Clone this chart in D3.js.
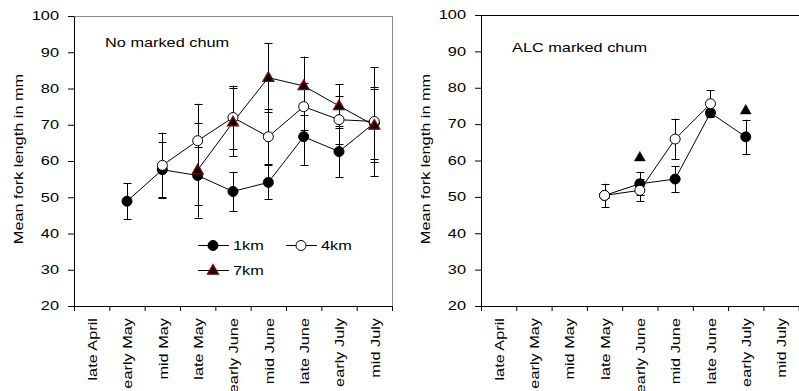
<!DOCTYPE html>
<html>
<head>
<meta charset="utf-8">
<script src="https://cdn.jsdelivr.net/npm/d3@7"></script>
<style>
body { margin: 0; background: #fff; }
text { font-family: "Liberation Sans", Arial, sans-serif; font-size: 12px; fill: #000; }
</style>
</head>
<body>
<script>

var periods = ['late April', 'early May', 'mid May', 'late May', 'early June', 'mid June', 'late June', 'early July', 'mid July'];
var yTicks = [20, 30, 40, 50, 60, 70, 80, 90, 100];

// NO MARKED CHUM
var noKm1 = [null, 48.9, 57.6, 56.0, 51.6, 54.1, 66.7, 62.6, 70.5];
var noKm1Err = [null, 4.9, 7.6, 8.0, 5.4, 4.7, 7.9, 7.0, 10.0];
var noKm4 = [null, null, 58.8, 65.6, 72.0, 66.7, 75.0, 71.4, 70.9];
var noKm4Err = [null, null, 9.0, 10.2, 8.8, 7.6, 6.5, 6.6, 15.0];
var noKm7 = [null, null, null, 57.5, 70.7, 83.0, 80.7, 75.2, 69.8];
var noKm7Err = [null, null, null, 13.1, 9.4, 9.6, 8.1, 6.0, 10.0];

// ALC MARKED CHUM
var alcKm1 = [null, null, null, 50.4, 53.6, 54.9, 73.1, 66.5, null];
var alcKm1Err = [null, null, null, 0.8, 3.2, 3.6, 1.0, 4.7, null];
var alcKm4 = [null, null, null, 50.4, 51.8, 65.9, 75.6, null, null];
var alcKm4Err = [null, null, null, 3.2, 3.0, 5.6, 3.7, null, null];
var alcKm7 = [null, null, null, null, 60.9, null, null, 73.8, null];

var sx = 1.36; // text in the picture is wider than plain Arial

var svg = d3.select('body').append('svg')
	.attr('width', 799)
	.attr('height', 391);

svg.append('rect')
	.attr('width', 799)
	.attr('height', 391)
	.attr('fill', '#fff');

function panel(left, right, top, title, titleY, series, frameColor, showRight) {
	var g = svg.append('g');

	var y = d3.scaleLinear().domain([20, 100]).range([306, top]);
	var x = d3.scaleBand().domain(periods).range([left, right]);
	var edge = d3.scaleLinear().domain([0, periods.length]).range([left, right]);

	// frame top / right
	g.append('line')
		.attr('x1', left).attr('x2', right + 1)
		.attr('y1', top + 0.5).attr('y2', top + 0.5)
		.attr('stroke', frameColor);
	if (showRight) {
		g.append('line')
			.attr('x1', right + 0.5).attr('x2', right + 0.5)
			.attr('y1', top).attr('y2', 306)
			.attr('stroke', frameColor);
	}

	// Y AXIS
	var yAxis = g.append('g')
		.attr('transform', 'translate(' + left + ',0)')
		.call(d3.axisLeft(y).tickValues(yTicks).tickSize(6).tickSizeOuter(0).tickPadding(9));
	yAxis.selectAll('text')
		.attr('x', 0)
		.attr('transform', 'translate(-15,0) scale(' + sx + ',1)');

	// X AXIS: ticks on the period edges, labels in the middle
	g.append('g')
		.attr('transform', 'translate(0,306)')
		.call(d3.axisBottom(edge).tickValues(d3.range(periods.length + 1)).tickFormat('').tickSize(5).tickSizeOuter(0));

	var xAxis = g.append('g')
		.attr('transform', 'translate(0,306)')
		.call(d3.axisBottom(x).tickSize(0));
	xAxis.select('.domain').remove();
	xAxis.selectAll('text')
		.attr('x', 0)
		.attr('y', 0)
		.attr('dy', '0.35em')
		.style('text-anchor', 'end')
		.attr('transform', 'translate(1,12) rotate(-90) scale(' + sx + ',1)');

	g.selectAll('.domain, .tick line').attr('stroke', '#000');
	g.selectAll('.tick text').attr('font-size', 12).attr('font-family', '"Liberation Sans", Arial, sans-serif');

	// axis title
	g.append('text')
		.attr('text-anchor', 'middle')
		.attr('transform', 'translate(' + (left - 51) + ',159) rotate(-90) scale(' + sx + ',1)')
		.text('Mean fork length in mm');

	g.append('text')
		.attr('transform', 'translate(' + (left + 31) + ',' + titleY + ') scale(' + sx + ',1)')
		.text(title);

	// ERROR BARS
	series.forEach(function(s) {
		if (!s.err) return;
		periods.forEach(function(p, i) {
			var v = s.values[i], e = s.err[i];
			if (v == null || e == null) return;
			var cx = Math.round(x(p) + x.bandwidth() / 2) + 0.5;
			g.append('line')
				.attr('x1', cx).attr('x2', cx)
				.attr('y1', y(v - e)).attr('y2', y(v + e))
				.attr('stroke', '#000');
			[v - e, v + e].forEach(function(w) {
				g.append('line')
					.attr('x1', cx - 4).attr('x2', cx + 4)
					.attr('y1', Math.round(y(w)) + 0.5).attr('y2', Math.round(y(w)) + 0.5)
					.attr('stroke', '#000');
			});
		});
	});

	// LINES
	series.forEach(function(s) {
		if (!s.line) return;
		var line = d3.line()
			.defined(function(d) { return d.v != null; })
			.x(function(d) { return x(d.p) + x.bandwidth() / 2; })
			.y(function(d) { return y(d.v); });
		g.append('path')
			.datum(periods.map(function(p, i) { return {p: p, v: s.values[i]}; }))
			.attr('d', line)
			.attr('fill', 'none')
			.attr('stroke', '#000');
	});

	// MARKERS
	series.forEach(function(s) {
		periods.forEach(function(p, i) {
			var v = s.values[i];
			if (v == null) return;
			var cx = x(p) + x.bandwidth() / 2;
			marker(g, s.kind, cx, y(v), s.stroke);
		});
	});
}

function marker(g, kind, cx, cy, stroke) {
	if (kind == 'tri') {
		g.append('path')
			.attr('d', d3.symbol(d3.symbolTriangle, 52)())
			.attr('transform', 'translate(' + cx + ',' + (cy + 0.5) + ')')
			.attr('fill', '#000')
			.attr('stroke', stroke || '#000')
			.attr('stroke-width', stroke ? 1.3 : 0.5);
	} else {
		g.append('circle')
			.attr('cx', cx)
			.attr('cy', cy)
			.attr('r', 5)
			.attr('fill', kind == 'open' ? '#fff' : '#000')
			.attr('stroke', '#000');
	}
}

panel(74, 392, 16, 'No marked chum', 46.5, [
	{values: noKm1, err: noKm1Err, kind: 'fill', line: true},
	{values: noKm4, err: noKm4Err, kind: 'open', line: true},
	{values: noKm7, err: noKm7Err, kind: 'tri', line: true, stroke: '#8b0000'}
], '#8c8c8c', true);

panel(481, 798.7, 15, 'ALC marked chum', 52, [
	{values: alcKm1, err: alcKm1Err, kind: 'fill', line: true},
	{values: alcKm4, err: alcKm4Err, kind: 'open', line: true},
	{values: alcKm7, err: null, kind: 'tri', line: false}
], '#000', false);

// LEGEND
var legend = [
	{name: '1km', kind: 'fill', x: 198, y: 245},
	{name: '4km', kind: 'open', x: 286, y: 245},
	{name: '7km', kind: 'tri', x: 198, y: 270, stroke: '#8b0000'}
];
legend.forEach(function(d) {
	svg.append('line')
		.attr('x1', d.x).attr('x2', d.x + 31)
		.attr('y1', d.y + 0.5).attr('y2', d.y + 0.5)
		.attr('stroke', '#000');
	marker(svg, d.kind, d.x + 15, d.y + 0.5, d.stroke);
	svg.append('text')
		.attr('transform', 'translate(' + (d.x + 35) + ',' + (d.y + 5) + ') scale(' + sx + ',1)')
		.text(d.name);
});

</script>
</body>
</html>
